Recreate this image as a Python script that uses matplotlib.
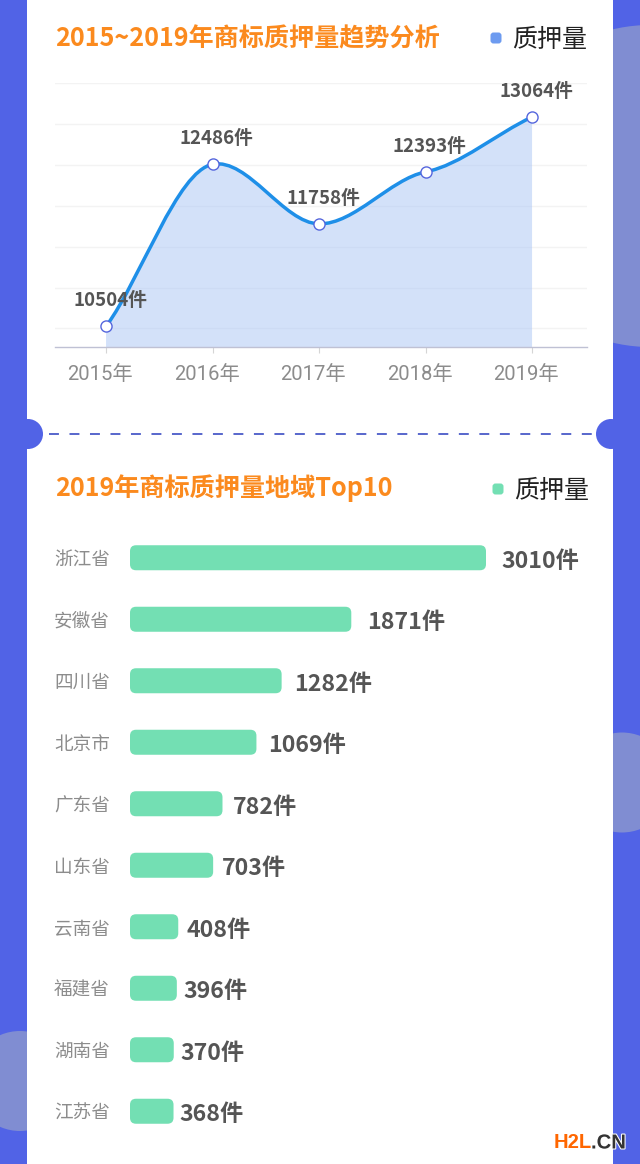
import matplotlib
matplotlib.use("Agg")
import matplotlib.pyplot as plt
from matplotlib.patches import Circle, FancyBboxPatch, PathPatch, Rectangle
from matplotlib.patheffects import withStroke
from matplotlib.path import Path
from matplotlib.transforms import ScaledTranslation

plt.rcParams['font.family'] = ['Noto Sans CJK SC', 'DejaVu Sans']

W, H = 640, 1164

# line chart data
years = ['2015年', '2016年', '2017年', '2018年', '2019年']
pledges = [10504, 12486, 11758, 12393, 13064]
grid_values = [10480, 10980, 11480, 11980, 12480, 12980, 13480]

# bar chart data
provinces = ['浙江省', '安徽省', '四川省', '北京市', '广东省', '山东省', '云南省', '福建省', '湖南省', '江苏省']
region_pledges = [3010, 1871, 1282, 1069, 782, 703, 408, 396, 370, 368]
label_gaps = [15, 16, 12, 12, 10, 9, 8, 7, 7, 6]  # px, value label offset

BLUE = '#5163e6'
DECOR = '#808dd2'
ORANGE = '#fb8a1e'
GREEN = '#73dfb3'
DARK = '#555555'
GRAY = '#8c8c8c'


def px_axes(fig, left, top, right, bottom):
    # axes placed by pixel box, y counted from the top of the image
    return fig.add_axes([left / W, 1 - bottom / H, (right - left) / W, (bottom - top) / H])


def smooth_path(xs, ys, tension=0.2):
    # cubic pieces through the points, tangent from the neighbours
    slopes = []
    for i in range(len(ys)):
        if i == 0:
            slopes.append((ys[1] - ys[0]) * 0.9)
        elif i == len(ys) - 1:
            slopes.append((ys[-1] - ys[-2]) * 0.9)
        else:
            slopes.append((ys[i + 1] - ys[i - 1]) * tension)
    verts = [(xs[0], ys[0])]
    codes = [Path.MOVETO]
    for i in range(len(ys) - 1):
        verts.append((xs[i] + 1 / 3, ys[i] + slopes[i] / 3))
        verts.append((xs[i + 1] - 1 / 3, ys[i + 1] - slopes[i + 1] / 3))
        verts.append((xs[i + 1], ys[i + 1]))
        codes += [Path.CURVE4] * 3
    return verts, codes


fig = plt.figure(figsize=(W / 100, H / 100), dpi=100, facecolor=BLUE)

# background in pixel coordinates
bg = fig.add_axes([0, 0, 1, 1])
bg.set_xlim(0, W)
bg.set_ylim(H, 0)
bg.axis('off')
for cx, cy, r in [(650, 186, 161), (622, 782.5, 50), (20, 1081, 50)]:
    bg.add_patch(Circle((cx, cy), r, fc=DECOR, ec='none'))
bg.add_patch(Rectangle((27, 0), 586, H, fc='white', ec='none'))
bg.add_patch(Circle((28, 434), 15, fc=BLUE, ec='none'))
bg.add_patch(Circle((611, 434), 15, fc=BLUE, ec='none'))
bg.plot([49, 592], [434, 434], color='#4a5bc8', lw=1.3, dashes=(5.5, 5.85))

# titles and legends
bg.text(55, 38.5, '2015~2019年商标质押量趋势分析', color=ORANGE, fontsize=18.1, fontweight='bold', va='center')
bg.text(55, 488.5, '2019年商标质押量地域Top10', color=ORANGE, fontsize=18.1, fontweight='bold', va='center')
bg.add_patch(FancyBboxPatch((490.5, 32.5), 11, 11, boxstyle='round,pad=0,rounding_size=3', fc='#6d9bf0', ec='none'))
bg.add_patch(FancyBboxPatch((492.5, 483.5), 11, 11, boxstyle='round,pad=0,rounding_size=3', fc=GREEN, ec='none'))
bg.text(512, 40, '质押量', color='#222222', fontsize=18, va='center')
bg.text(514, 491, '质押量', color='#222222', fontsize=18, va='center')

# line chart
ax = px_axes(fig, 55, 82.5, 587, 347)
ax.patch.set_alpha(0)
xs = list(range(len(years)))
ax.set_xlim(-0.479, 4.516)
ax.set_ylim(10253, 13486)
for side in ['top', 'left', 'right']:
    ax.spines[side].set_visible(False)
ax.spines['bottom'].set_color('#bfc1d4')
ax.spines['bottom'].set_linewidth(1.0)
ax.set_yticks(grid_values)
ax.tick_params(axis='y', length=0, labelleft=False)
ax.grid(axis='y', color='#f3f3f3', lw=1.0)
ax.set_axisbelow(True)
ax.set_xticks(xs)
ax.set_xticklabels(years, family=['Roboto', 'Noto Sans CJK SC'], fontsize=14.6, color=GRAY)
ax.tick_params(axis='x', length=4, width=0.8, color='#d5d5d5', pad=9)
for lab in ax.get_xticklabels():
    # labels sit a little left of their ticks
    lab.set_transform(lab.get_transform() + ScaledTranslation(-6 / 100, 0, fig.dpi_scale_trans))

verts, codes = smooth_path(xs, pledges)
fill_verts = verts + [(xs[-1], 10253), (xs[0], 10253), (xs[0], pledges[0])]
fill_codes = codes + [Path.LINETO, Path.LINETO, Path.CLOSEPOLY]
ax.add_patch(PathPatch(Path(fill_verts, fill_codes), fc='#a9c5f5', ec='none', alpha=0.5))
ax.add_patch(PathPatch(Path(verts, codes), fc='none', ec='#1e8fe8', lw=2.5, capstyle='round'))
ax.plot(xs, pledges, ls='none', marker='o', ms=8, mfc='white', mec='#5566dd', mew=1.0, zorder=5)
for x, v in zip(xs, pledges):
    ax.annotate(f'{v}件', (x, v), xytext=(2.9, 18.5), textcoords='offset points', ha='center', va='center',
                fontsize=13.5, fontweight='bold', color=DARK, zorder=6)

# bar chart
bar_ax = px_axes(fig, 130, 527, 600, 1142)
bar_ax.patch.set_alpha(0)
bar_ax.axis('off')
px_per_unit = 356 / 3010
bar_ax.set_xlim(0, 470 / px_per_unit)
bar_ax.set_ylim(9.5, -0.5)
ys = list(range(len(provinces)))
bar_h = 25 / 61.5
bars = bar_ax.barh(ys, region_pledges, height=bar_h, visible=False)
# y units are 61.5 px, x units 1/px_per_unit px
unit_ratio = px_per_unit / 61.5
radius = 6 / px_per_unit
for bar, name, v, gap, y in zip(bars, provinces, region_pledges, label_gaps, ys):
    bar_ax.add_patch(FancyBboxPatch((bar.get_x(), bar.get_y()), bar.get_width(), bar.get_height(),
                                    boxstyle=f'round,pad=0,rounding_size={radius}',
                                    mutation_aspect=unit_ratio, fc=GREEN, ec='none'))
    bar_ax.annotate(f'{v}件', (v, y), xytext=(gap * 0.72, -2.5), textcoords='offset points', va='center',
                    fontsize=16.7, fontweight='bold', color=DARK, annotation_clip=False)
    bar_ax.annotate(name, (0, y), xytext=(-76 * 0.72, -1.7), textcoords='offset points', va='center',
                    fontsize=13.4, color=GRAY, annotation_clip=False)

# watermark
wm = bg.text(554, 1148.5, 'H2L', color='#ff6600', fontsize=14.6, fontweight='bold', family='Liberation Sans', va='baseline', zorder=10)
wm2 = bg.text(591, 1148.5, '.CN', color='#333333', fontsize=14.6, fontweight='bold', family='Liberation Sans', va='baseline', zorder=10)
wm2.set_path_effects([withStroke(linewidth=1.5, foreground='white')])

fig.savefig('out.png', dpi=100, facecolor=BLUE)
